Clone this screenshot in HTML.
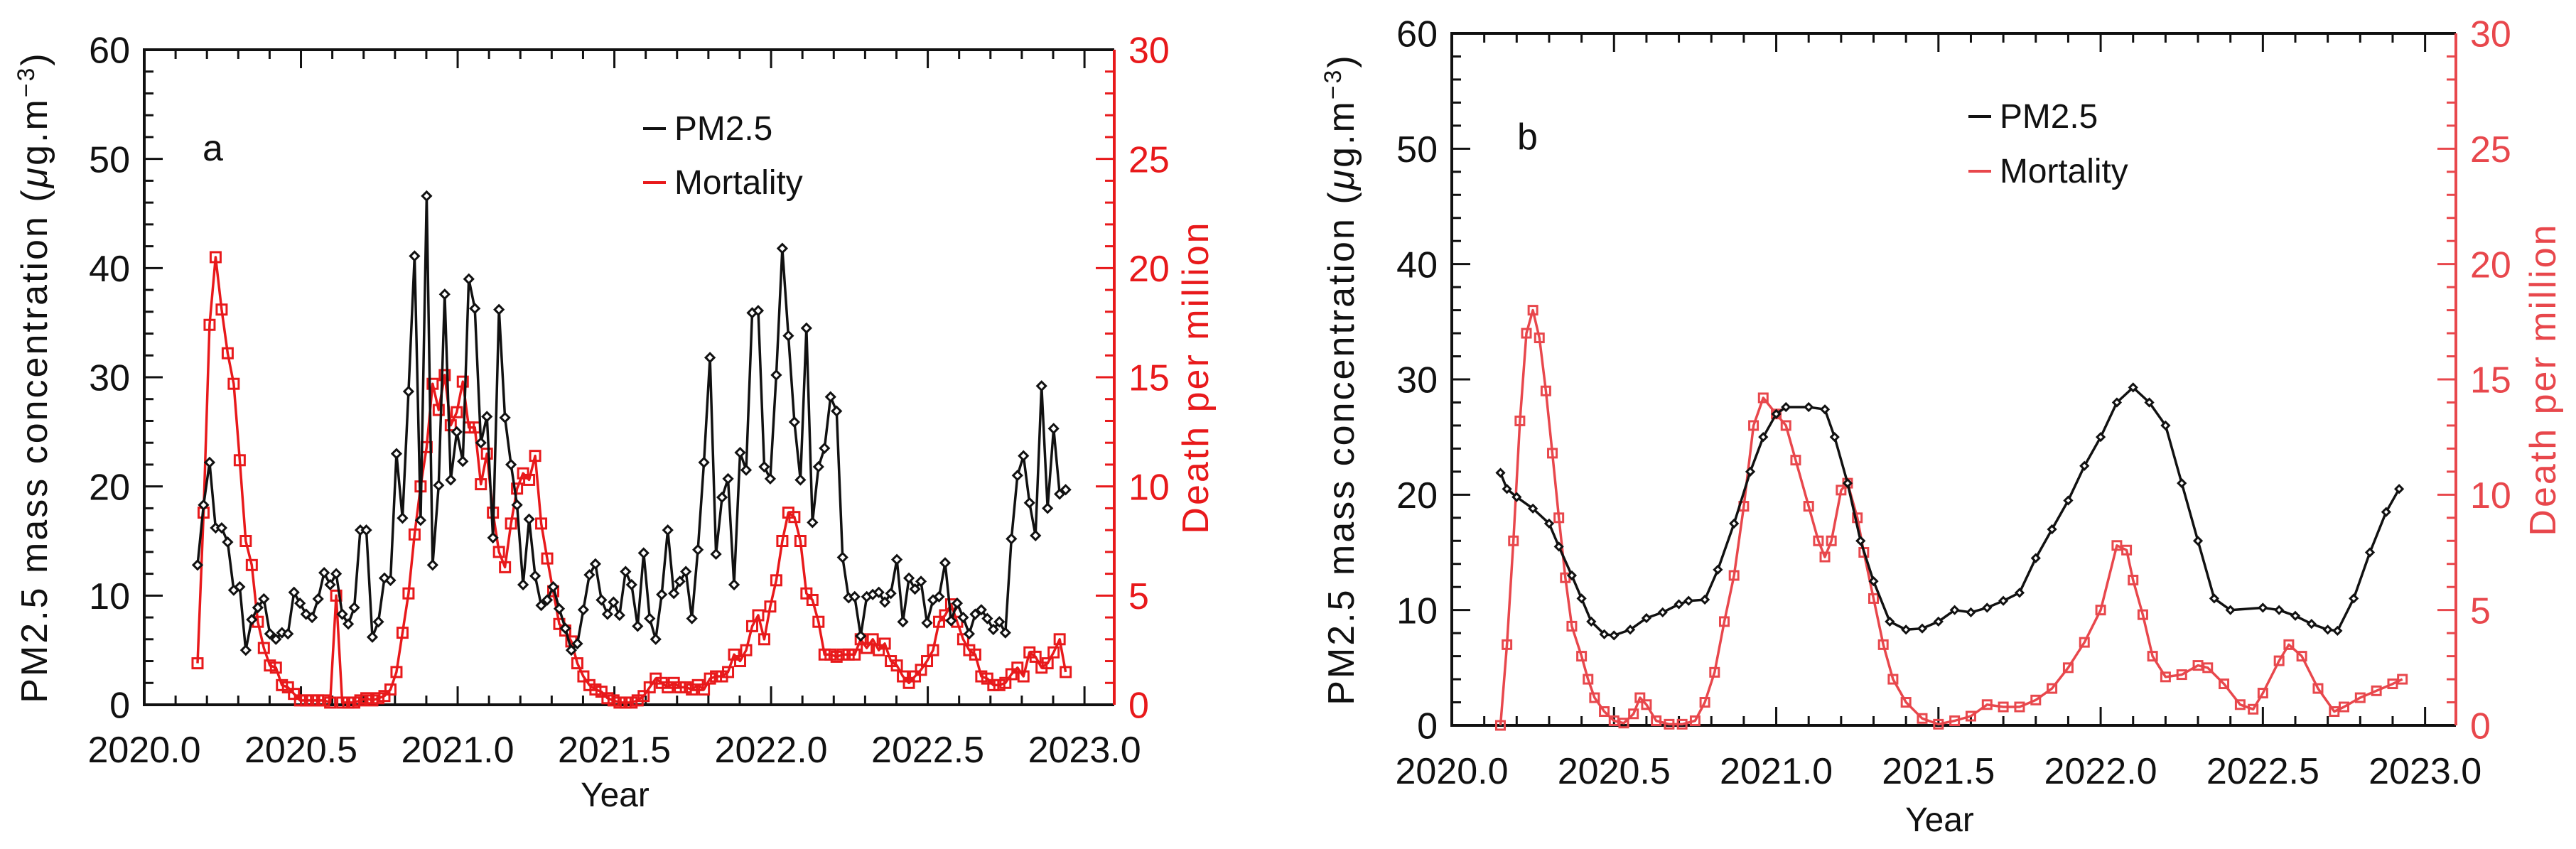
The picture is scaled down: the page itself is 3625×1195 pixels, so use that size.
<!DOCTYPE html>
<html><head><meta charset="utf-8">
<style>
html,body{margin:0;padding:0;background:#fff;}
svg{display:block;font-family:"Liberation Sans","DejaVu Sans",sans-serif;}
</style></head>
<body>
<svg id="chart" width="3625" height="1195" viewBox="0 0 3625 1195" xmlns="http://www.w3.org/2000/svg"></svg>
<script>
// ---- Panel a data (weekly) ----
const aStartYear = 2020.17;
const aEndYear = 2022.94;
const aPm = [12.8,18.3,22.2,16.2,16.2,14.9,10.5,10.8,5.0,7.8,8.9,9.7,6.5,6.0,6.6,6.5,10.3,9.3,8.3,8.0,9.7,12.1,11.0,12.0,8.3,7.4,8.9,16.0,16.0,6.2,7.6,11.6,11.4,23.0,17.1,28.7,41.1,16.9,46.6,12.8,20.1,37.6,20.6,25.0,22.3,39.0,36.3,24.0,26.4,15.3,36.2,26.3,22.0,18.3,11.0,17.0,11.8,9.1,9.6,10.8,8.8,7.0,5.0,5.6,8.7,11.9,12.9,9.6,8.3,9.4,8.2,12.2,11.0,7.2,13.9,7.9,6.0,10.1,16.0,10.2,11.3,12.2,7.9,14.2,22.2,31.8,13.8,19.0,20.7,11.0,23.1,21.5,35.9,36.1,21.8,20.7,30.2,41.8,33.8,25.9,20.6,34.5,16.7,21.8,23.5,28.2,26.9,13.5,9.8,9.9,6.3,9.9,10.1,10.3,9.4,10.2,13.3,7.6,11.6,10.6,11.3,7.5,9.6,9.9,13.0,7.7,9.3,8.0,6.5,8.3,8.7,7.9,6.9,7.6,6.6,15.2,21.0,22.8,18.5,15.5,29.2,18.0,25.3,19.3,19.7];
const aMort = [1.9,8.8,17.4,20.5,18.1,16.1,14.7,11.2,7.5,6.4,3.8,2.6,1.8,1.7,0.9,0.8,0.5,0.2,0.2,0.2,0.2,0.2,0.1,5.0,0.1,0.1,0.1,0.2,0.3,0.2,0.3,0.4,0.7,1.5,3.3,5.1,7.8,10.0,11.8,14.7,13.5,15.1,12.8,13.4,14.8,12.7,12.7,10.1,11.5,8.8,7.0,6.3,8.3,9.9,10.6,10.3,11.4,8.3,6.7,5.2,3.7,3.4,2.9,1.9,1.3,0.9,0.7,0.6,0.3,0.2,0.1,0.1,0.1,0.2,0.4,0.8,1.2,1.0,0.8,1.0,0.8,0.8,0.7,0.9,0.7,1.2,1.3,1.3,1.5,2.3,2.0,2.5,3.6,4.1,3.0,4.5,5.7,7.5,8.8,8.6,7.5,5.1,4.8,3.8,2.3,2.3,2.2,2.3,2.3,2.3,3.0,2.6,3.0,2.5,2.8,2.0,1.8,1.3,1.0,1.3,1.6,2.0,2.5,3.8,4.1,4.6,3.8,3.0,2.5,2.3,1.3,1.2,0.9,0.9,1.0,1.4,1.7,1.3,2.4,2.2,1.7,1.9,2.4,3.0,1.5];

// ---- Panel b data (smoothed) ----
const bPmYears = [2020.15,2020.17,2020.2,2020.25,2020.3,2020.33,2020.37,2020.4,2020.43,2020.47,2020.5,2020.55,2020.6,2020.65,2020.7,2020.73,2020.78,2020.82,2020.87,2020.92,2020.96,2021.0,2021.03,2021.1,2021.15,2021.18,2021.22,2021.26,2021.3,2021.35,2021.4,2021.45,2021.5,2021.55,2021.6,2021.65,2021.7,2021.75,2021.8,2021.85,2021.9,2021.95,2022.0,2022.05,2022.1,2022.15,2022.2,2022.25,2022.3,2022.35,2022.4,2022.5,2022.55,2022.6,2022.65,2022.7,2022.73,2022.78,2022.83,2022.88,2022.92];
const bPm = [21.9,20.5,19.8,18.8,17.5,15.5,13,11,9,7.9,7.8,8.3,9.3,9.8,10.5,10.8,10.9,13.5,17.5,22,25,27,27.6,27.6,27.4,25,21,16,12.5,9,8.3,8.4,9.0,10.0,9.8,10.2,10.8,11.5,14.5,17,19.5,22.5,25,28,29.3,28,26,21,16,11,10,10.2,10,9.5,8.8,8.3,8.2,11,15,18.5,20.5];
const bMortYears = [2020.15,2020.17,2020.19,2020.21,2020.23,2020.25,2020.27,2020.29,2020.31,2020.33,2020.35,2020.37,2020.4,2020.42,2020.44,2020.47,2020.5,2020.53,2020.56,2020.58,2020.6,2020.63,2020.67,2020.71,2020.75,2020.78,2020.81,2020.84,2020.87,2020.9,2020.93,2020.96,2021.0,2021.03,2021.06,2021.1,2021.13,2021.15,2021.17,2021.2,2021.22,2021.25,2021.27,2021.3,2021.33,2021.36,2021.4,2021.45,2021.5,2021.55,2021.6,2021.65,2021.7,2021.75,2021.8,2021.85,2021.9,2021.95,2022.0,2022.05,2022.08,2022.1,2022.13,2022.16,2022.2,2022.25,2022.3,2022.33,2022.38,2022.43,2022.47,2022.5,2022.55,2022.58,2022.62,2022.67,2022.72,2022.75,2022.8,2022.85,2022.9,2022.93];
const bMort = [0,3.5,8,13.2,17,18,16.8,14.5,11.8,9,6.4,4.3,3.0,2.0,1.2,0.6,0.2,0.1,0.5,1.2,0.9,0.2,0.05,0.05,0.2,1,2.3,4.5,6.5,9.5,13,14.2,13.5,13,11.5,9.5,8.0,7.3,8,10.2,10.5,9,7.5,5.5,3.5,2.0,1.0,0.3,0.05,0.2,0.4,0.9,0.8,0.8,1.1,1.6,2.5,3.6,5,7.8,7.6,6.3,4.8,3.0,2.1,2.2,2.6,2.5,1.8,0.9,0.7,1.4,2.8,3.5,3.0,1.6,0.6,0.8,1.2,1.5,1.8,2.0];

// ---- Axis tick labels ----
const xTickLabels = ["2020.0","2020.5","2021.0","2021.5","2022.0","2022.5","2023.0"];
const leftTickLabels = ["0","10","20","30","40","50","60"];
const rightTickLabels = ["0","5","10","15","20","25","30"];

const NS = "http://www.w3.org/2000/svg";
const svg = document.getElementById('chart');
function mk(tag, attrs, parent){
  const e = document.createElementNS(NS, tag);
  for (const k in attrs) e.setAttribute(k, attrs[k]);
  (parent||svg).appendChild(e);
  return e;
}

function panel(cfg){
  const g = mk('g', {});
  
  
  const L=cfg.L, R=cfg.R, T=cfg.T, B=cfg.B;
  const X = y => L + (y - 2020.0) / (cfg.xmax - 2020.0) * (R - L);
  const YL = v => B - v / 60 * (B - T);
  const YR = v => B - v / 30 * (B - T);
  const red = cfg.red;

  for (let i = 0; i <= 31; i++){
    const yr = 2020 + i*0.1;
    const x = X(yr);
    if (x > R) break;
    const major = i % 5 === 0;
    const len = major ? 26 : 13;
    mk('line',{x1:x,y1:B,x2:x,y2:B-len,stroke:'#111','stroke-width':3},g);
    mk('line',{x1:x,y1:T,x2:x,y2:T+len,stroke:'#111','stroke-width':3},g);
  }
  xTickLabels.forEach((lab,i)=>{
    const t = mk('text',{x:X(2020+i*0.5),y:cfg.xLabY,'font-size':cfg.fs,'text-anchor':'middle',fill:'#111'},g);
    
    
    t.textContent = lab;
  });
  for (let v = 0; v <= 60; v += 2){
    const y = YL(v);
    const major = v % 10 === 0;
    mk('line',{x1:L,y1:y,x2:L+(major?26:13),y2:y,stroke:'#111','stroke-width':3},g);
  }
  leftTickLabels.forEach((lab,i)=>{
    const t = mk('text',{x:L-20,y:YL(i*10)+cfg.fs*0.36,'font-size':cfg.fs,'text-anchor':'end',fill:'#111'},g);
    
    
    t.textContent = lab;
  });
  for (let v = 0; v <= 30; v += 1){
    const y = YR(v);
    const major = v % 5 === 0;
    mk('line',{x1:R,y1:y,x2:R-(major?26:13),y2:y,stroke:red,'stroke-width':3},g);
  }
  rightTickLabels.forEach((lab,i)=>{
    const t = mk('text',{x:R+20,y:YR(i*5)+cfg.fs*0.36,'font-size':cfg.fs,'text-anchor':'start',fill:red},g);
    
    
    t.textContent = lab;
  });
  mk('path',{d:`M${R},${T} L${L},${T} L${L},${B} L${R},${B}`,fill:'none',stroke:'#111','stroke-width':4},g);
  mk('line',{x1:R,y1:T,x2:R,y2:B,stroke:red,'stroke-width':4},g);

  function series(xs, vs, yf, color, marker, name, lw){
    const sg = mk('g',{},g);
    
    
    let d='';
    xs.forEach((xv,i)=>{ d += (i?'L':'M') + X(xv).toFixed(1) + ',' + yf(vs[i]).toFixed(1); });
    mk('path',{d:d,fill:'none',stroke:color,'stroke-width':lw,'stroke-linejoin':'round'},sg);
    xs.forEach((xv,i)=>{
      const cx = X(xv), cy = yf(vs[i]);
      let m;
      if (marker==='diamond'){
        const s = cfg.ms;
        m = mk('path',{d:`M${cx},${cy-s}L${cx+s},${cy}L${cx},${cy+s}L${cx-s},${cy}Z`,fill:'#fff',stroke:color,'stroke-width':3},sg);
      } else {
        const s = cfg.ms+1;
        m = mk('rect',{x:cx-s,y:cy-s,width:2*s,height:2*s,fill:'none',stroke:color,'stroke-width':3},sg);
      }
      
      
    });
  }
  series(cfg.mx, cfg.mv, YR, red, 'square', 'mortality-series', cfg.lw);
  series(cfg.px, cfg.pv, YL, '#111', 'diamond', 'pm25-series', cfg.lw);

  const pl = mk('text',{x:cfg.letterX,y:cfg.letterY,'font-size':cfg.fs,fill:'#111'},g);
  
  
  pl.textContent = cfg.id;

  const lg = mk('g',{},g);
  
  
  mk('line',{x1:cfg.legX,y1:cfg.legY1-16,x2:cfg.legX+32,y2:cfg.legY1-16,stroke:'#111','stroke-width':4},lg);
  const t1 = mk('text',{x:cfg.legX+44,y:cfg.legY1,'font-size':cfg.fs*0.92,fill:'#111'},lg);
  
  
  t1.textContent='PM2.5';
  mk('line',{x1:cfg.legX,y1:cfg.legY2-16,x2:cfg.legX+32,y2:cfg.legY2-16,stroke:red,'stroke-width':4},lg);
  const t2 = mk('text',{x:cfg.legX+44,y:cfg.legY2,'font-size':cfg.fs*0.92,fill:'#111'},lg);
  
  
  t2.textContent='Mortality';

  const cy = (T+B)/2;
  const lt = mk('text',{x:cfg.ltX,y:cy,'font-size':cfg.fs,'text-anchor':'middle',fill:'#111',transform:`rotate(-90 ${cfg.ltX} ${cy})`,'letter-spacing':'3'},g);
  
  
  lt.innerHTML = 'PM2.5  mass  concentration  (<tspan font-style="italic">μ</tspan>g.m<tspan dy="-18" font-size="' + (cfg.fs*0.65) + '">−3</tspan><tspan dy="18">)</tspan>';
  const rt = mk('text',{x:cfg.rtX,y:cy,'font-size':cfg.fs,'text-anchor':'middle',fill:red,transform:`rotate(-90 ${cfg.rtX} ${cy})`,'letter-spacing':'3'},g);
  
  
  rt.textContent = 'Death  per  million';
  const xt = mk('text',{x:(L+R)/2 - 20,y:cfg.xtY,'font-size':cfg.fs*0.92,'text-anchor':'middle',fill:'#111'},g);
  
  
  xt.textContent = 'Year';
}

const aYears = aPm.map((_,i)=> aStartYear + i*(aEndYear-aStartYear)/(aPm.length-1));

panel({id:'a',L:203,R:1568,T:70,B:992,xmax:2023.095,red:'#e8191b',fs:52,ms:6,lw:3.5,
  px:aYears,pv:aPm,mx:aYears,mv:aMort,
  xLabY:1073,letterX:285,letterY:226,legX:905,legY1:197,legY2:273,
  ltX:66,rtX:1700,xtY:1135});
panel({id:'b',L:2043,R:3456,T:47,B:1021,xmax:2023.095,red:'#e8474c',fs:52,ms:5,lw:3.5,
  px:bPmYears,pv:bPm,mx:bMortYears,mv:bMort,
  xLabY:1103,letterX:2135,letterY:210,legX:2770,legY1:180,legY2:257,
  ltX:1905,rtX:3596,xtY:1170});
</script>
</body></html>
